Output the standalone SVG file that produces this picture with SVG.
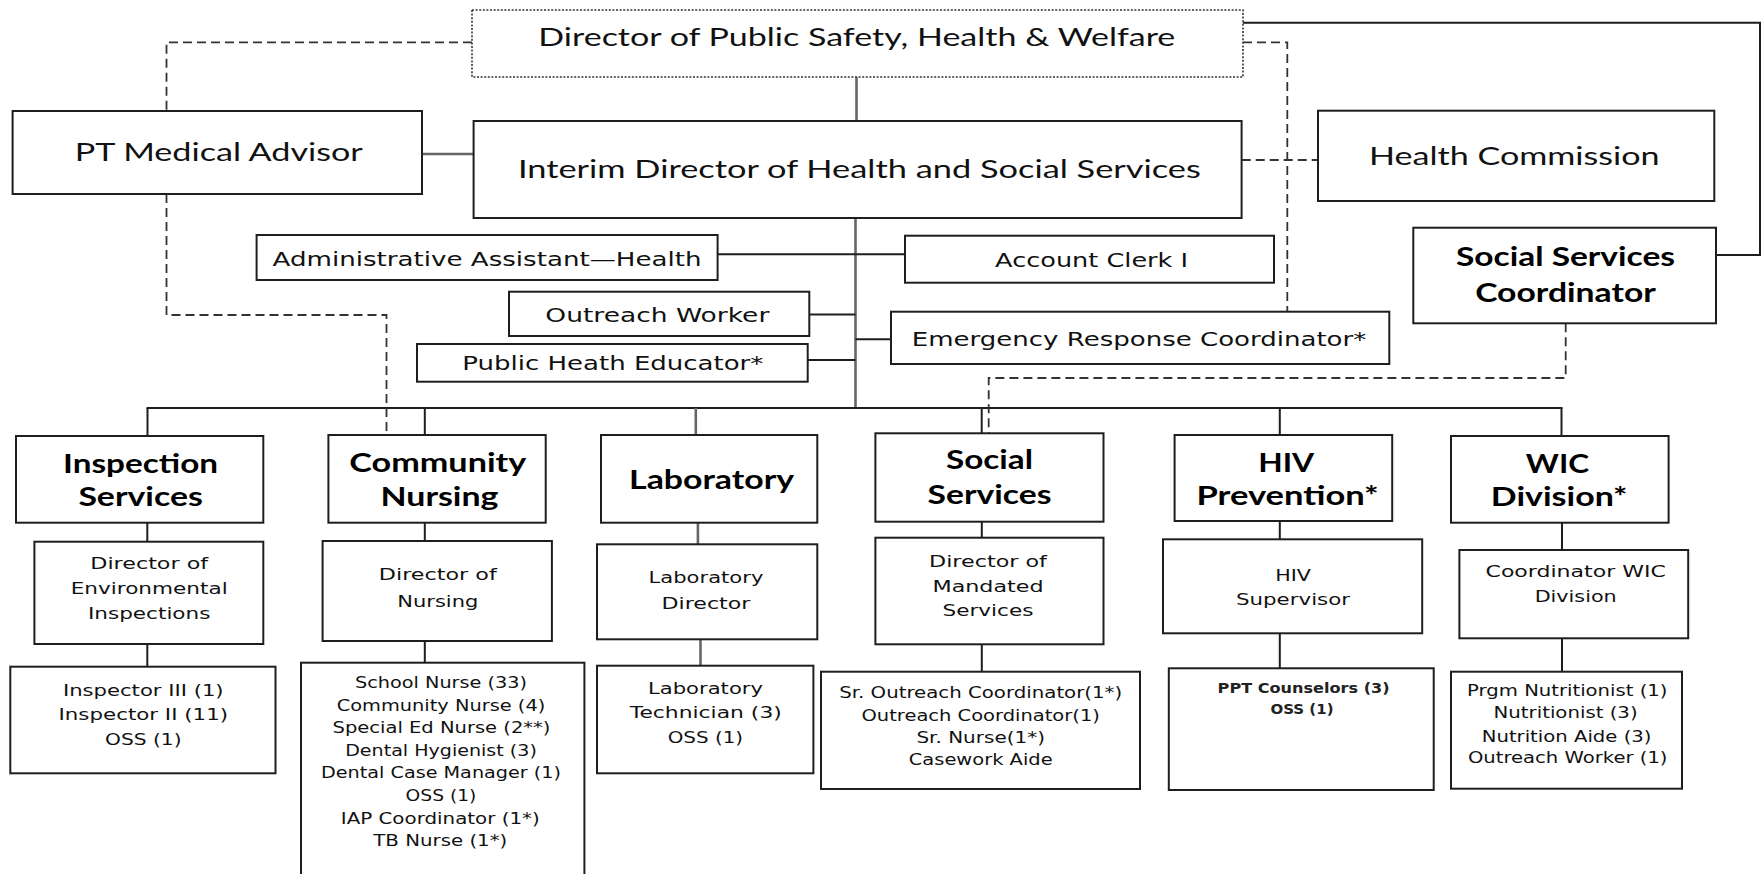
<svg xmlns="http://www.w3.org/2000/svg" width="1762" height="874" viewBox="0 0 1762 874">
<style>
.bg{fill:#fff}
.box{fill:#fff;stroke:#1e1e1e;stroke-width:2}
.dot{fill:#fff;stroke:#333;stroke-width:1.6;stroke-dasharray:2 1.6}
.ln{fill:none;stroke:#1e1e1e;stroke-width:2}
.gl{fill:none;stroke:#666;stroke-width:2.6}
.ds{fill:none;stroke:#333;stroke-width:1.8;stroke-dasharray:9 5}
text{text-anchor:middle;fill:#111}
.t1{font-family:Lato,"Open Sans",sans-serif;font-size:25px}
.hd{font-family:Lato,"Open Sans",sans-serif;font-size:26px;font-weight:bold;fill:#000}
.md{font-family:"DejaVu Sans","Open Sans",sans-serif;font-size:20px}
.sm{font-family:"DejaVu Sans","Open Sans",sans-serif;font-size:16.5px}
.xs{font-family:"DejaVu Sans",sans-serif;font-size:14px;font-weight:bold;fill:#222}
</style>
<rect class="bg" x="0" y="0" width="1762" height="874"/>
<g id="connectors">
  <line class="gl" x1="856.5" y1="77" x2="856.5" y2="121"/>
  <line class="gl" x1="422" y1="154" x2="473.6" y2="154"/>
  <line class="gl" x1="855.5" y1="218" x2="855.5" y2="408"/>
  <line class="ln" x1="717.6" y1="254.3" x2="905" y2="254.3"/>
  <line class="ln" x1="809.3" y1="314.5" x2="855.5" y2="314.5"/>
  <line class="ln" x1="807.7" y1="360" x2="855.5" y2="360"/>
  <line class="ln" x1="855.5" y1="339.3" x2="891" y2="339.3"/>
  <line class="ln" x1="146.5" y1="408" x2="1562.5" y2="408"/>
  <line class="ln" x1="147.5" y1="408" x2="147.5" y2="436"/>
  <line class="ln" x1="424.8" y1="408" x2="424.8" y2="435"/>
  <line class="gl" x1="695.8" y1="408" x2="695.8" y2="435"/>
  <line class="ln" x1="981.7" y1="408" x2="981.7" y2="433.3"/>
  <line class="ln" x1="1279.8" y1="408" x2="1279.8" y2="435"/>
  <line class="ln" x1="1561.5" y1="408" x2="1561.5" y2="436"/>
  <line class="ln" x1="147.3" y1="522.7" x2="147.3" y2="541.7"/>
  <line class="ln" x1="147.3" y1="644" x2="147.3" y2="666.7"/>
  <line class="ln" x1="424.8" y1="522.7" x2="424.8" y2="541"/>
  <line class="ln" x1="424.8" y1="641" x2="424.8" y2="662.7"/>
  <line class="gl" x1="697.9" y1="522.7" x2="697.9" y2="544.3"/>
  <line class="gl" x1="700.5" y1="639.3" x2="700.5" y2="665.7"/>
  <line class="ln" x1="981.8" y1="521.7" x2="981.8" y2="537.7"/>
  <line class="ln" x1="981.8" y1="644.3" x2="981.8" y2="671.7"/>
  <line class="ln" x1="1279.8" y1="521" x2="1279.8" y2="539.3"/>
  <line class="ln" x1="1279.8" y1="633.3" x2="1279.8" y2="668.3"/>
  <line class="ln" x1="1562" y1="522.7" x2="1562" y2="550"/>
  <line class="ln" x1="1562" y1="638.3" x2="1562" y2="671.7"/>
  <polyline class="ln" points="1243,22.7 1760,22.7 1760,255 1716,255"/>
  <polyline class="ds" points="472,42.3 166.5,42.3 166.5,111"/>
  <polyline class="ds" points="166.5,194 166.5,315 386.5,315 386.5,435"/>
  <polyline class="ds" points="1243,42.3 1287.3,42.3 1287.3,311.7"/>
  <line class="ds" x1="1241.7" y1="160" x2="1318" y2="160"/>
  <polyline class="ds" points="1565.7,323.3 1565.7,378 988.7,378 988.7,433.3"/>
</g>
<g id="n-director">
  <rect class="dot" x="472" y="10" width="771" height="67"/>
  <text class="t1" x="856.8" y="46" textLength="637" lengthAdjust="spacingAndGlyphs">Director of Public Safety, Health &amp; Welfare</text>
</g>
<g id="n-pt">
  <rect class="box" x="12.6" y="111" width="409.4" height="83"/>
  <text class="t1" x="218.8" y="161" textLength="288" lengthAdjust="spacingAndGlyphs">PT Medical Advisor</text>
</g>
<g id="n-interim">
  <rect class="box" x="473.6" y="121" width="768" height="97"/>
  <text class="t1" x="859.4" y="178.3" textLength="683" lengthAdjust="spacingAndGlyphs">Interim Director of Health and Social Services</text>
</g>
<g id="n-hc">
  <rect class="box" x="1318" y="110.7" width="396.3" height="90.3"/>
  <text class="t1" x="1514.3" y="165" textLength="290.6" lengthAdjust="spacingAndGlyphs">Health Commission</text>
</g>
<g id="n-admin">
  <rect class="box" x="256.6" y="235" width="461" height="45"/>
  <text class="md" x="487" y="265.5" textLength="429" lengthAdjust="spacingAndGlyphs">Administrative Assistant—Health</text>
</g>
<g id="n-clerk">
  <rect class="box" x="905" y="235.7" width="369" height="47"/>
  <text class="md" x="1091.6" y="266.5" textLength="193" lengthAdjust="spacingAndGlyphs">Account Clerk I</text>
</g>
<g id="n-outreach">
  <rect class="box" x="509" y="291.7" width="300.3" height="44.3"/>
  <text class="md" x="657.3" y="321.5" textLength="224" lengthAdjust="spacingAndGlyphs">Outreach Worker</text>
</g>
<g id="n-phe">
  <rect class="box" x="417" y="344" width="390.7" height="37.7"/>
  <text class="md" x="612.8" y="370" textLength="301" lengthAdjust="spacingAndGlyphs">Public Heath Educator*</text>
</g>
<g id="n-erc">
  <rect class="box" x="891" y="311.7" width="498.3" height="52.3"/>
  <text class="md" x="1139" y="345.5" textLength="454.5" lengthAdjust="spacingAndGlyphs">Emergency Response Coordinator*</text>
</g>
<g id="n-ssc">
  <rect class="box" x="1413.3" y="227.7" width="302.7" height="95.6"/>
  <text class="hd" x="1565.5" y="266" textLength="219" lengthAdjust="spacingAndGlyphs">Social Services</text>
  <text class="hd" x="1565.5" y="301.7" textLength="180.7" lengthAdjust="spacingAndGlyphs">Coordinator</text>
</g>
<g id="n-inspection">
  <rect class="box" x="16" y="436" width="247.3" height="86.7"/>
  <text class="hd" x="140.6" y="473.3" textLength="155" lengthAdjust="spacingAndGlyphs">Inspection</text>
  <text class="hd" x="140.6" y="506" textLength="124.4" lengthAdjust="spacingAndGlyphs">Services</text>
</g>
<g id="n-env">
  <rect class="box" x="34.4" y="541.7" width="228.9" height="102.3"/>
  <text class="sm" x="149.2" y="569.3" textLength="117.9" lengthAdjust="spacingAndGlyphs">Director of</text>
  <text class="sm" x="149.2" y="594" textLength="157" lengthAdjust="spacingAndGlyphs">Environmental</text>
  <text class="sm" x="149.2" y="619" textLength="122.5" lengthAdjust="spacingAndGlyphs">Inspections</text>
</g>
<g id="n-inspectors">
  <rect class="box" x="10.3" y="666.7" width="265.2" height="106.6"/>
  <text class="sm" x="143.3" y="696" textLength="160.7" lengthAdjust="spacingAndGlyphs">Inspector III (1)</text>
  <text class="sm" x="143.3" y="720" textLength="169.5" lengthAdjust="spacingAndGlyphs">Inspector II (11)</text>
  <text class="sm" x="143.3" y="745" textLength="76.5" lengthAdjust="spacingAndGlyphs">OSS (1)</text>
</g>
<g id="n-community">
  <rect class="box" x="328.4" y="435" width="217.3" height="87.7"/>
  <text class="hd" x="437.8" y="471.7" textLength="177" lengthAdjust="spacingAndGlyphs">Community</text>
  <text class="hd" x="439.5" y="506" textLength="118" lengthAdjust="spacingAndGlyphs">Nursing</text>
</g>
<g id="n-dirnursing">
  <rect class="box" x="322.6" y="541" width="229.3" height="100"/>
  <text class="sm" x="437.8" y="580" textLength="117.9" lengthAdjust="spacingAndGlyphs">Director of</text>
  <text class="sm" x="437.8" y="606.7" textLength="81" lengthAdjust="spacingAndGlyphs">Nursing</text>
</g>
<g id="n-nurses">
  <rect class="box" x="301" y="662.7" width="283.4" height="230"/>
  <text class="sm" x="441" y="687.7" textLength="172" lengthAdjust="spacingAndGlyphs">School Nurse (33)</text>
  <text class="sm" x="441" y="710.5" textLength="208.6" lengthAdjust="spacingAndGlyphs">Community Nurse (4)</text>
  <text class="sm" x="441.5" y="733.3" textLength="218" lengthAdjust="spacingAndGlyphs">Special Ed Nurse (2**)</text>
  <text class="sm" x="441" y="755.5" textLength="191.7" lengthAdjust="spacingAndGlyphs">Dental Hygienist (3)</text>
  <text class="sm" x="441" y="778.3" textLength="240" lengthAdjust="spacingAndGlyphs">Dental Case Manager (1)</text>
  <text class="sm" x="441" y="801" textLength="70.8" lengthAdjust="spacingAndGlyphs">OSS (1)</text>
  <text class="sm" x="440.3" y="823.5" textLength="199" lengthAdjust="spacingAndGlyphs">IAP Coordinator (1*)</text>
  <text class="sm" x="440.3" y="846" textLength="134" lengthAdjust="spacingAndGlyphs">TB Nurse (1*)</text>
</g>
<g id="n-lab">
  <rect class="box" x="601" y="435" width="216.3" height="87.7"/>
  <text class="hd" x="711.6" y="489" textLength="165" lengthAdjust="spacingAndGlyphs">Laboratory</text>
</g>
<g id="n-labdir">
  <rect class="box" x="597" y="544.3" width="220.3" height="95"/>
  <text class="sm" x="706" y="583.3" textLength="114.8" lengthAdjust="spacingAndGlyphs">Laboratory</text>
  <text class="sm" x="706" y="609.3" textLength="88.8" lengthAdjust="spacingAndGlyphs">Director</text>
</g>
<g id="n-labtech">
  <rect class="box" x="597" y="665.7" width="216.4" height="107.6"/>
  <text class="sm" x="705.5" y="694" textLength="115" lengthAdjust="spacingAndGlyphs">Laboratory</text>
  <text class="sm" x="705.8" y="718.3" textLength="152" lengthAdjust="spacingAndGlyphs">Technician (3)</text>
  <text class="sm" x="705.4" y="742.7" textLength="75.4" lengthAdjust="spacingAndGlyphs">OSS (1)</text>
</g>
<g id="n-social">
  <rect class="box" x="875.4" y="433.3" width="228.1" height="88.4"/>
  <text class="hd" x="989.5" y="469.3" textLength="86.9" lengthAdjust="spacingAndGlyphs">Social</text>
  <text class="hd" x="989.5" y="504.3" textLength="124" lengthAdjust="spacingAndGlyphs">Services</text>
</g>
<g id="n-mandated">
  <rect class="box" x="875.4" y="537.7" width="228.1" height="106.6"/>
  <text class="sm" x="988" y="566.7" textLength="117.9" lengthAdjust="spacingAndGlyphs">Director of</text>
  <text class="sm" x="988" y="591.7" textLength="111" lengthAdjust="spacingAndGlyphs">Mandated</text>
  <text class="sm" x="988" y="616" textLength="91" lengthAdjust="spacingAndGlyphs">Services</text>
</g>
<g id="n-socialstaff">
  <rect class="box" x="821" y="671.7" width="319" height="117.3"/>
  <text class="sm" x="980.7" y="697.7" textLength="283" lengthAdjust="spacingAndGlyphs">Sr. Outreach Coordinator(1*)</text>
  <text class="sm" x="980.7" y="721" textLength="238.4" lengthAdjust="spacingAndGlyphs">Outreach Coordinator(1)</text>
  <text class="sm" x="980.7" y="743.3" textLength="128.6" lengthAdjust="spacingAndGlyphs">Sr. Nurse(1*)</text>
  <text class="sm" x="980.7" y="765" textLength="143.9" lengthAdjust="spacingAndGlyphs">Casework Aide</text>
</g>
<g id="n-hiv">
  <rect class="box" x="1174.6" y="435" width="217.6" height="86"/>
  <text class="hd" x="1286.2" y="471.7" textLength="56" lengthAdjust="spacingAndGlyphs">HIV</text>
  <text class="hd" x="1287.6" y="505" textLength="182.3" lengthAdjust="spacingAndGlyphs">Prevention*</text>
</g>
<g id="n-hivsup">
  <rect class="box" x="1163" y="539.3" width="259.2" height="94"/>
  <text class="sm" x="1293" y="580.7" textLength="35.7" lengthAdjust="spacingAndGlyphs">HIV</text>
  <text class="sm" x="1293" y="605" textLength="114" lengthAdjust="spacingAndGlyphs">Supervisor</text>
</g>
<g id="n-ppt">
  <rect class="box" x="1168.8" y="668.3" width="264.9" height="121.7"/>
  <text class="xs" x="1303.6" y="692.7" textLength="172" lengthAdjust="spacingAndGlyphs">PPT Counselors (3)</text>
  <text class="xs" x="1302" y="714" textLength="63" lengthAdjust="spacingAndGlyphs">OSS (1)</text>
</g>
<g id="n-wic">
  <rect class="box" x="1451" y="436" width="217.6" height="86.7"/>
  <text class="hd" x="1557.5" y="472.7" textLength="63.3" lengthAdjust="spacingAndGlyphs">WIC</text>
  <text class="hd" x="1559.2" y="506" textLength="136.7" lengthAdjust="spacingAndGlyphs">Division*</text>
</g>
<g id="n-wiccoord">
  <rect class="box" x="1459.4" y="550" width="228.8" height="88.3"/>
  <text class="sm" x="1575.7" y="576.7" textLength="180.4" lengthAdjust="spacingAndGlyphs">Coordinator WIC</text>
  <text class="sm" x="1575.7" y="601.7" textLength="82" lengthAdjust="spacingAndGlyphs">Division</text>
</g>
<g id="n-nutrition">
  <rect class="box" x="1451" y="671.7" width="231" height="117"/>
  <text class="sm" x="1567.3" y="696" textLength="200.4" lengthAdjust="spacingAndGlyphs">Prgm Nutritionist (1)</text>
  <text class="sm" x="1565.6" y="718.3" textLength="144" lengthAdjust="spacingAndGlyphs">Nutritionist (3)</text>
  <text class="sm" x="1566.6" y="741.7" textLength="169.7" lengthAdjust="spacingAndGlyphs">Nutrition Aide (3)</text>
  <text class="sm" x="1567.7" y="763.3" textLength="199.6" lengthAdjust="spacingAndGlyphs">Outreach Worker (1)</text>
</g>
</svg>
